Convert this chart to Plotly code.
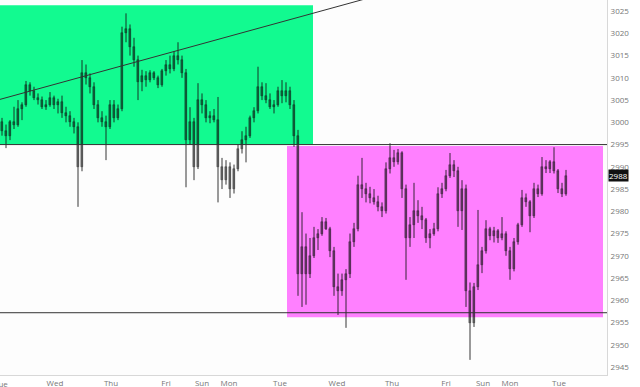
import plotly.graph_objects as go

# ---- data ----
bar_open = [3000, 2998, 2997, 3000, 2999.5, 3003, 3004, 3008.5, 3007, 3005.5,
            3005, 3003.5, 3004, 3005.5, 3004, 3004.5, 3002, 3001.5, 3000, 2999,
            2990, 3011, 3010, 3008, 3004, 3001, 3000, 2999, 3004, 3001,
            3003, 3020, 3021, 3017, 3014, 3009, 3010.5, 3009.5, 3011, 3010,
            3008.5, 3011.5, 3013, 3012, 3015, 3014, 3011, 2996, 3000, 2990,
            3005, 3004, 3001, 3001.5, 3000.5, 2990, 2987, 2990, 2985, 2989.5,
            2994, 2996, 2997, 3001, 3002.5, 3008, 3006, 3005, 3003.5, 3004,
            3007, 3006, 3007, 3004, 2997, 2966, 2972, 2966, 2970, 2974,
            2975, 2977.5, 2976, 2971, 2963, 2962, 2964.5, 2966, 2973, 2976,
            2986, 2985, 2984, 2983, 2982, 2981, 2980, 2989.5, 2992, 2991,
            2993, 2985, 2974, 2977, 2980, 2979, 2978, 2974, 2975, 2976,
            2984, 2985, 2988, 2990.5, 2989, 2980, 2985, 2962, 2955, 2963,
            2968, 2971, 2976, 2974.5, 2975.5, 2974, 2975, 2971, 2967, 2973,
            2977, 2983, 2982, 2979, 2985, 2984, 2990, 2989.5, 2991, 2989,
            2985, 2984]
bar_high = [3001, 2999.5, 3000.5, 3003.5, 3005, 3004.5, 3009.3, 3009, 3008, 3006.5,
            3005.8, 3005, 3006.8, 3006, 3005.3, 3006, 3003.5, 3002.5, 3001, 3000,
            3014, 3013, 3011, 3009, 3005, 3002.5, 3001.5, 3005, 3005, 3004,
            3021.5, 3024.5, 3022, 3019, 3015, 3011.8, 3011.5, 3011.7, 3011.5, 3010.5,
            3012, 3014, 3015, 3016, 3018, 3015, 3012, 3003.4, 3001, 3008.8,
            3006.5, 3005, 3002.5, 3003, 3005.7, 2992, 2991.5, 2991, 2990.5, 2995,
            2998, 2999, 3001.5, 3003.4, 3012.5, 3009, 3008.8, 3006.5, 3005, 3008,
            3009.5, 3009, 3008, 3005, 2998.3, 2979.8, 2975, 2974, 2976.5, 2976,
            2978.7, 2978.5, 2976.5, 2972, 2966, 2966, 2967, 2975, 2977.4, 2988,
            2992, 2986.4, 2985.5, 2985, 2983.5, 2982, 2991, 2995.3, 2993.8, 2994,
            2993.5, 2986, 2978.7, 2986.4, 2982.5, 2981, 2978.5, 2976, 2977.4, 2985.4,
            2986.4, 2989.3, 2993.1, 2991.5, 2990, 2987, 2986, 2964, 2963.9, 2980.3,
            2972, 2978, 2976.5, 2976.5, 2976, 2978.7, 2975.5, 2972, 2974, 2977.4,
            2984.8, 2984, 2982.5, 2986.4, 2986, 2992.2, 2991.5, 2991.5, 2994.4, 2989.5,
            2986.4, 2989.3]
bar_low = [2997, 2994.2, 2996, 2998.5, 2999, 3000.5, 3003.5, 3006, 3005, 3004,
           3003, 3002.8, 3003.5, 3003, 3002, 3001, 3000, 2999, 2997.5, 2981,
           2989, 3008.5, 3006.5, 3003, 3000, 2999, 2991.5, 2998.5, 3000, 3000.5,
           3002.5, 3018, 3015, 3012.5, 3005, 3007, 3008, 3009, 3009.5, 3007.7,
           3008, 3010.5, 3011, 3011.5, 3013, 3010, 2985.4, 2995, 2987, 2989.5,
           3002, 3000, 2999.8, 3000, 2982, 2985, 2986, 2983, 2984, 2989,
           2993, 2991, 2996.5, 3000, 3002, 3005, 3004.3, 3003, 3002, 3003.5,
           3004.3, 3004.5, 3003, 2994.5, 2961, 2958.5, 2959, 2965, 2969.5, 2971.3,
           2974.5, 2975.8, 2969.7, 2961, 2956.7, 2961, 2953.8, 2965, 2972, 2975.5,
           2983, 2982, 2981.8, 2981.5, 2980, 2978.7, 2979.5, 2988.5, 2990, 2990.5,
           2983, 2964.6, 2972, 2974, 2977.4, 2976, 2972.9, 2971.7, 2974.5, 2975.5,
           2983, 2984.5, 2987.5, 2987.7, 2976.5, 2975.8, 2958.5, 2946.6, 2954, 2962.3,
           2966.1, 2970.5, 2973.5, 2973, 2972.9, 2973.5, 2970, 2964.6, 2966.5, 2972.5,
           2976.5, 2981, 2975.3, 2978.5, 2983.2, 2983.5, 2988.6, 2988.6, 2988.5, 2984.1,
           2983.2, 2983.5]
bar_close = [2998, 2997, 3000, 2999.5, 3003, 3004, 3008.5, 3007, 3005.5, 3005,
             3003.5, 3004, 3005.5, 3004, 3004.5, 3002, 3001.5, 3000, 2999, 2990,
             3011, 3010, 3008, 3004, 3001, 3000, 2999, 3004, 3001, 3003,
             3020, 3021, 3017, 3014, 3009, 3010.5, 3009.5, 3011, 3010, 3008.5,
             3011.5, 3013, 3012, 3015, 3014, 3011, 2996, 3000, 2990, 3005,
             3004, 3001, 3001.5, 3000.5, 2990, 2987, 2990, 2985, 2989.5, 2994,
             2996, 2997, 3001, 3002.5, 3008, 3006, 3005, 3003.5, 3004, 3007,
             3006, 3007, 3004, 2997, 2966, 2972, 2966, 2970, 2974, 2975,
             2977.5, 2976, 2971, 2963, 2962, 2964.5, 2966, 2973, 2976, 2986,
             2985, 2984, 2983, 2982, 2981, 2980, 2989.5, 2992, 2991, 2993,
             2985, 2974, 2977, 2980, 2979, 2978, 2974, 2975, 2976, 2984,
             2985, 2988, 2990.5, 2989, 2980, 2985, 2962, 2955, 2963, 2968,
             2971, 2976, 2974.5, 2975.5, 2974, 2975, 2971, 2967, 2973, 2977,
             2983, 2982, 2979, 2985, 2984, 2990, 2989.5, 2991, 2989, 2985,
             2984, 2988]

day_labels = ["Tue", "Wed", "Thu", "Fri", "Sun", "Mon", "Tue",
              "Wed", "Thu", "Fri", "Sun", "Mon", "Tue"]
day_start_bar = [-0.25, 13.25, 27.25, 41, 50, 56.75, 69.5,
                 83.75, 97.5, 111, 120.25, 127, 139.25]

upper_zone = [2995, 3026.3]
lower_zone = [2956.2, 2994.7]
resistance_level = 2995
support_level = 2957.2
trend_line_y = [3005.16, 3029.9]
last_price = 2988

bars = list(range(len(bar_close)))

# candle bodies and wicks built from the OHLC lists
body_base = [min(o, c) for o, c in zip(bar_open, bar_close)]
body_size = [max(abs(c - o), 0.15) for o, c in zip(bar_open, bar_close)]
wick_x, wick_y = [], []
for i, lo, hi in zip(bars, bar_low, bar_high):
    wick_x += [i, i, None]
    wick_y += [lo, hi, None]

fig = go.Figure()
fig.add_trace(go.Scatter(x=wick_x, y=wick_y, mode="lines",
                         line=dict(color="rgba(20,20,20,0.85)", width=1),
                         showlegend=False, hoverinfo="skip"))
fig.add_trace(go.Bar(x=bars, y=body_size, base=body_base, width=0.5,
                     marker=dict(color="rgba(0,0,0,0.38)",
                                 line=dict(color="rgba(0,0,0,0.6)", width=0.5)),
                     showlegend=False, hoverinfo="skip"))

x_lo, x_hi = -0.5, 151.25

fig.add_shape(type="rect", xref="x", yref="y", x0=x_lo, x1=77.75,
              y0=upper_zone[0], y1=upper_zone[1],
              fillcolor="#12FA90", line=dict(width=0), layer="below")
fig.add_shape(type="rect", xref="x", yref="y", x0=71.25, x1=150.25,
              y0=lower_zone[0], y1=lower_zone[1],
              fillcolor="#FF80FF", line=dict(width=0), layer="below")
fig.add_shape(type="line", xref="x", yref="y", x0=x_lo, x1=x_hi,
              y0=resistance_level, y1=resistance_level,
              line=dict(color="#333333", width=1))
fig.add_shape(type="line", xref="x", yref="y", x0=x_lo, x1=x_hi,
              y0=support_level, y1=support_level,
              line=dict(color="#333333", width=1))
fig.add_shape(type="line", xref="x", yref="y", x0=x_lo, x1=99.5,
              y0=trend_line_y[0], y1=trend_line_y[1],
              line=dict(color="#333333", width=1))

fig.add_annotation(xref="paper", yref="y", x=1.0, y=last_price,
                   text=str(last_price), showarrow=False, xanchor="left",
                   xshift=1, font=dict(family="Open Sans", size=8, color="white"),
                   bgcolor="#111111", borderpad=0)
# first day label sits on the left edge and is cut by it
fig.add_annotation(xref="x", yref="paper", x=day_start_bar[0], y=0,
                   yanchor="top", yshift=-1, text=day_labels[0], showarrow=False,
                   font=dict(family="Open Sans", size=8, color="#777777"))

fig.update_layout(
    width=640, height=387,
    margin=dict(l=0, r=33, t=0, b=12),
    paper_bgcolor="white", plot_bgcolor="#FDFDFD",
    font=dict(family="Open Sans", size=8, color="#777777"),
    bargap=0,
    xaxis=dict(range=[x_lo, x_hi], tickvals=day_start_bar[1:], ticktext=day_labels[1:],
               showgrid=False, zeroline=False,
               showline=True, linecolor="#D8D8D8", linewidth=1,
               ticks="", ticklabelstandoff=0, tickfont=dict(size=8, color="#777777")),
    yaxis=dict(range=[2943.2, 3027.5], side="right", tickvals=list(range(2945, 3030, 5)),
               showgrid=False, zeroline=False, showline=True, linecolor="#D8D8D8",
               linewidth=1, ticks="", ticklabelstandoff=1,
               tickfont=dict(size=8, color="#777777")),
)

fig.write_html("out.html")
